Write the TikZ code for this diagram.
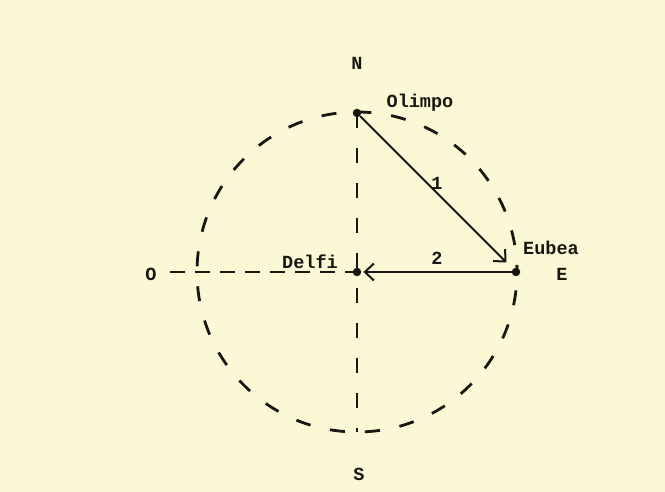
\documentclass[tikz,border=0pt]{standalone}
\usepackage{fontspec}
\setmainfont{Liberation Mono}
\usetikzlibrary{arrows.meta}
\definecolor{paper}{RGB}{251,248,214}
\definecolor{ink}{RGB}{25,22,18}
\begin{document}
\begin{tikzpicture}[x=1pt,y=1pt,
  lbl/.style={font=\fontsize{18.5}{20}\selectfont\bfseries, text=ink, inner sep=0pt},
  dotnode/.style={circle, fill=ink, inner sep=0pt, minimum size=8.5pt},
  dashline/.style={draw=ink, line width=2.8pt, dash pattern=on 15pt off 20pt},
  arr/.style={draw=ink, line width=2pt, -{Straight Barb[length=9pt,width=17pt,line width=2pt]}}]
\fill[paper] (0,0) rectangle (665,492);
\useasboundingbox (0,0) rectangle (665,492);
% circle and axes
\coordinate (C) at (357,220);
\coordinate (Sb) at (357,60);
\coordinate (Ow) at (170,220);
\draw[dashline, dash phase=8pt] (C) circle[radius=160];
\node[dotnode] (olimpo) at (357,379) {};
\node[dotnode] (eubea) at (516,220) {};
\node[dotnode] (delfi) at (357,220) {};
\draw[dashline, dash phase=4pt] (olimpo) -- (Sb);
\draw[dashline, dash pattern=on 15pt off 10pt] (Ow) -- (delfi);
% arrows
\draw[arr, shorten >=9pt] (olimpo) -- (eubea);
\draw[arr, shorten >=2pt] (eubea) -- (delfi);
% labels
\node[lbl] (n1) at (437,309) {1};
\node[lbl] (n2) at (437,234) {2};
\node[lbl] (N) at (357,429) {N};
\node[lbl] (S) at (359,18) {S};
\node[lbl] (O) at (151,218) {O};
\node[lbl] (E) at (562,218) {E};
\node[lbl] (lo) at (420,389) {Olimpo};
\node[lbl] (le) at (551,244) {Eubea};
\node[lbl] (ld) at (310,230) {Delfi};
\end{tikzpicture}
\end{document}
